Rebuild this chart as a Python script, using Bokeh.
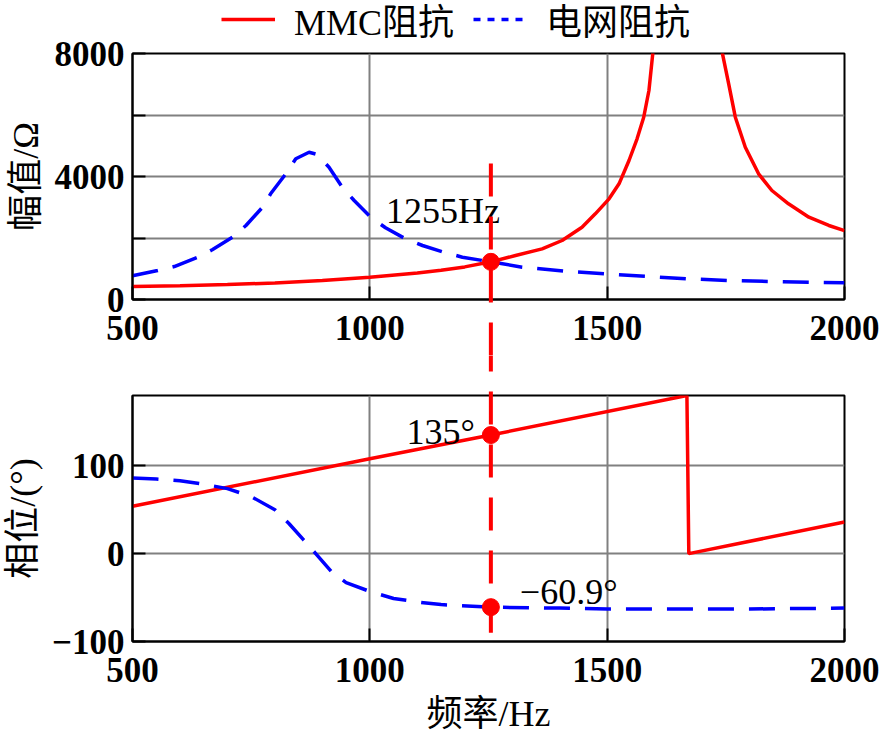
from bokeh.plotting import figure
from bokeh.layouts import column
from bokeh.models import (FixedTicker, Legend, LegendItem, Label, Range1d)
from bokeh.embed import file_html
from bokeh.resources import INLINE

# ---------------- data ----------------
mmc_mag_freq = [500, 600, 700, 800, 900, 1000, 1100, 1150, 1200, 1255, 1307, 1363, 1405, 1447,
                1475, 1504, 1525, 1546, 1563, 1577, 1588, 1596, 1620, 1650, 1668, 1690, 1720,
                1743, 1756, 1770, 1791, 1819, 1847, 1882, 1925, 1967, 2000]
mmc_mag = [420, 450, 485, 540, 620, 725, 860, 950, 1060, 1225, 1431, 1648, 1919, 2352,
           2786, 3274, 3762, 4520, 5226, 5928, 6797, 7989, 12000, 20000, 30000, 20000, 12000,
           7990, 7014, 5928, 4953, 4087, 3545, 3112, 2677, 2407, 2240]

grid_mag_freq = [500, 553, 588, 637, 668, 711, 739, 774, 791, 823, 844, 872, 889, 914, 942, 967,
                 1002, 1033, 1075, 1111, 1156, 1195, 1255, 1321, 1411, 1496, 1588, 1672, 1756,
                 1847, 1939, 2000]
grid_mag = [770, 943, 1073, 1376, 1616, 2026, 2407, 3002, 3437, 4088, 4576, 4790, 4716, 4303,
            3652, 3220, 2677, 2332, 1974, 1756, 1538, 1376, 1225, 1052, 921, 835, 748, 672, 618,
            585, 553, 542]

mmc_phase_freq = [500, 1000, 1255, 1668, 1672, 2000]
mmc_phase = [54, 108, 135, 180, 0, 36]

grid_phase_freq = [500, 550, 600, 650, 700, 750, 800, 830, 860, 886, 920, 950, 1000, 1050, 1100,
                   1150, 1255, 1400, 1500, 1700, 1800, 2000]
grid_phase = [86, 85, 83, 79, 74, 65, 50, 34, 16, 0, -21, -33, -43, -51, -55,
              -58, -60.9, -62, -63, -63, -63, -62]

cross_freq = 1255
cross_mag = 1225
cross_mmc_phase = 135
cross_grid_phase = -60.9
guide_top = 4420
guide_bottom = -90

x_ticks = [500, 1000, 1500, 2000]
mag_ticks = [0, 2000, 4000, 6000, 8000]
mag_tick_labels = {0: "0", 2000: "", 4000: "4000", 6000: "", 8000: "8000"}
phase_ticks = [-100, 0, 100]
phase_tick_labels = {-100: "\u2212100", 0: "0", 100: "100"}

RED = "#ff0000"
BLUE = "#0000ff"
GRAY = "#808080"
FONT = "Liberation Serif, Noto Sans CJK SC"
W = 879


def style(p, yticks, ylabels, ylabel, xlabel=None):
    p.xaxis.ticker = FixedTicker(ticks=x_ticks)
    p.yaxis.ticker = FixedTicker(ticks=yticks)
    p.yaxis.major_label_overrides = ylabels
    for ax in p.xaxis + p.yaxis:
        ax.major_tick_in = 13
        ax.major_tick_out = 0
        ax.minor_tick_in = 0
        ax.minor_tick_out = 0
        ax.major_tick_line_color = "black"
        ax.major_tick_line_width = 2
        ax.axis_line_color = "black"
        ax.axis_line_width = 2
        ax.major_label_text_font = FONT
        ax.major_label_text_font_size = "35px"
        ax.major_label_text_font_style = "bold"
        ax.major_label_text_color = "black"
        ax.axis_label_text_font = FONT
        ax.axis_label_text_font_size = "36px"
        ax.axis_label_text_font_style = "normal"
        ax.axis_label_text_color = "black"
    p.yaxis.major_label_standoff = 8
    p.yaxis.axis_label = ylabel
    p.yaxis.axis_label_standoff = 6
    if xlabel:
        p.xaxis.axis_label = xlabel
        p.xaxis.axis_label_standoff = 9
        p.xaxis.major_label_standoff = 16
    else:
        p.xaxis.major_label_standoff = 16
    for g in p.xgrid + p.ygrid:
        g.grid_line_color = GRAY
        g.grid_line_width = 2
    p.outline_line_color = "black"
    p.outline_line_width = 2
    p.outline_line_alpha = 1
    p.background_fill_color = "white"


x_range = Range1d(500, 2000)

# ---------------- legend strip ----------------
pl = figure(width=W, height=45, output_backend="svg", toolbar_location=None,
            x_range=Range1d(0, 1), y_range=Range1d(0, 1),
            min_border=0, min_border_left=0, min_border_right=0, min_border_top=0, min_border_bottom=0)
pl.axis.visible = False
pl.grid.visible = False
pl.outline_line_color = None
leg_mmc = pl.line(x=[-5, -4], y=[-5, -4], line_color=RED, line_width=3.5)
leg_grid = pl.line(x=[-5, -4], y=[-5, -4], line_color=BLUE, line_width=3.5, line_dash="7 7")
legend = Legend(items=[LegendItem(label="MMC阻抗", renderers=[leg_mmc]),
                       LegendItem(label="电网阻抗", renderers=[leg_grid])],
                orientation="horizontal", location=(89, 0), glyph_width=54, glyph_height=20,
                label_standoff=19, spacing=19, padding=0, margin=0,
                border_line_color=None, background_fill_alpha=0,
                label_text_font=FONT, label_text_font_size="36px", label_text_color="black")
pl.add_layout(legend, "center")

# ---------------- top panel ----------------
p1 = figure(width=W, height=323, output_backend="svg", toolbar_location=None,
            x_range=x_range, y_range=Range1d(0, 8000),
            min_border_left=130, min_border_right=35, min_border_top=20, min_border_bottom=57)
p1.margin = (-12, 0, 0, 0)
style(p1, mag_ticks, mag_tick_labels, "幅值/Ω")
p1.border_fill_alpha = 0

p1.line(mmc_mag_freq, mmc_mag, line_color=RED, line_width=3.5)
p1.line(grid_mag_freq, grid_mag, line_color=BLUE, line_width=3.5, line_dash="26 15")
p1.segment(x0=[cross_freq], y0=[guide_top], x1=[cross_freq], y1=[-3200],
           line_color=RED, line_width=4, line_dash="33 20", level="overlay")
p1.scatter([cross_freq], [cross_mag], size=17, color=RED)
p1.add_layout(Label(x=cross_freq, y=cross_mag, text=f"{cross_freq}Hz", x_offset=9, y_offset=51,
                    text_align="right", text_baseline="alphabetic", text_font=FONT,
                    text_font_size="36px", text_color="black"))

# ---------------- bottom panel ----------------
p2 = figure(width=W, height=383, output_backend="svg", toolbar_location=None,
            x_range=x_range, y_range=Range1d(-100, 180),
            min_border_left=130, min_border_right=35, min_border_top=39, min_border_bottom=98)
style(p2, phase_ticks, phase_tick_labels, "相位/(°)", "频率/Hz")
p2.border_fill_color = "white"

p2.line(mmc_phase_freq, mmc_phase, line_color=RED, line_width=3.5)
p2.line(grid_phase_freq, grid_phase, line_color=BLUE, line_width=3.5, line_dash="26 15")
p2.segment(x0=[cross_freq], y0=[245], x1=[cross_freq], y1=[guide_bottom],
           line_color=RED, line_width=4, line_dash="33 20", level="overlay")
p2.scatter([cross_freq, cross_freq], [cross_mmc_phase, cross_grid_phase], size=17, color=RED)
p2.add_layout(Label(x=cross_freq, y=cross_mmc_phase, text=f"{cross_mmc_phase}°", x_offset=-16,
                    y_offset=3, text_align="right", text_baseline="alphabetic", text_font=FONT,
                    text_font_size="36px", text_color="black"))
p2.add_layout(Label(x=cross_freq, y=cross_grid_phase, text="\u221260.9°", x_offset=29,
                    y_offset=15, text_align="left", text_baseline="alphabetic", text_font=FONT,
                    text_font_size="36px", text_color="black"))

layout = column(pl, p1, p2, spacing=0)
open("out.html", "w").write(file_html(layout, INLINE))
